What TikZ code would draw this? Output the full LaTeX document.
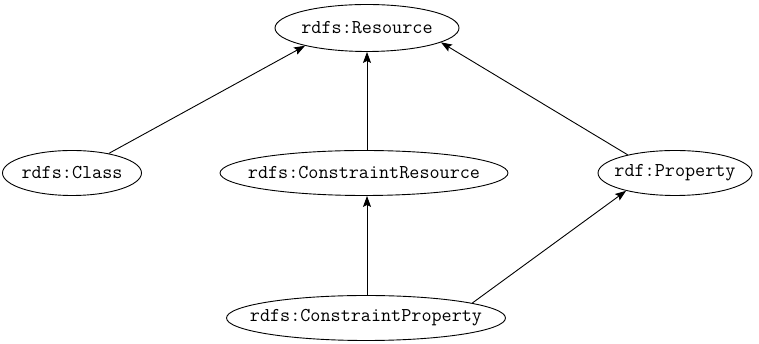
\documentclass[tikz,border=0pt]{standalone}
\usepackage{fontspec}
\usetikzlibrary{shapes.geometric,arrows.meta}
\newcommand{\lbl}[1]{\makebox[0pt]{#1}}
\begin{document}
\begin{tikzpicture}[x=1pt,y=1pt,
  cls/.style={draw, ellipse, line width=0.9pt, inner sep=0pt, font=\ttfamily\fontsize{19.6}{22}\selectfont},
  edge/.style={line width=0.9pt, -{Stealth[length=11pt,width=8pt,inset=2pt]}}]
\useasboundingbox (0,0) rectangle (759,344);
\node[cls, minimum width=184pt, minimum height=47pt] (res) at (367,316) {\lbl{rdfs:Resource}};
\node[cls, minimum width=139pt, minimum height=45pt] (class) at (72,171) {\lbl{rdfs:Class}};
\node[cls, minimum width=288pt, minimum height=45pt] (cres) at (364,171) {\lbl{rdfs:ConstraintResource}};
\node[cls, minimum width=154pt, minimum height=45pt] (prop) at (675,171) {\lbl{rdf:Property}};
\node[cls, minimum width=279pt, minimum height=45pt] (cprop) at (366,26) {\lbl{rdfs:ConstraintProperty}};
\draw[edge] (class.28) -- (res.196.5);
\draw[edge] (cres.north -| res.south) -- (res.south);
\draw[edge] (prop.159.9) -- (res.349.3);
\draw[edge] (cprop.north -| res.south) -- (cres.south -| res.south);
\draw[edge] (cprop.8) -- (prop.200.1);
\end{tikzpicture}
\end{document}
